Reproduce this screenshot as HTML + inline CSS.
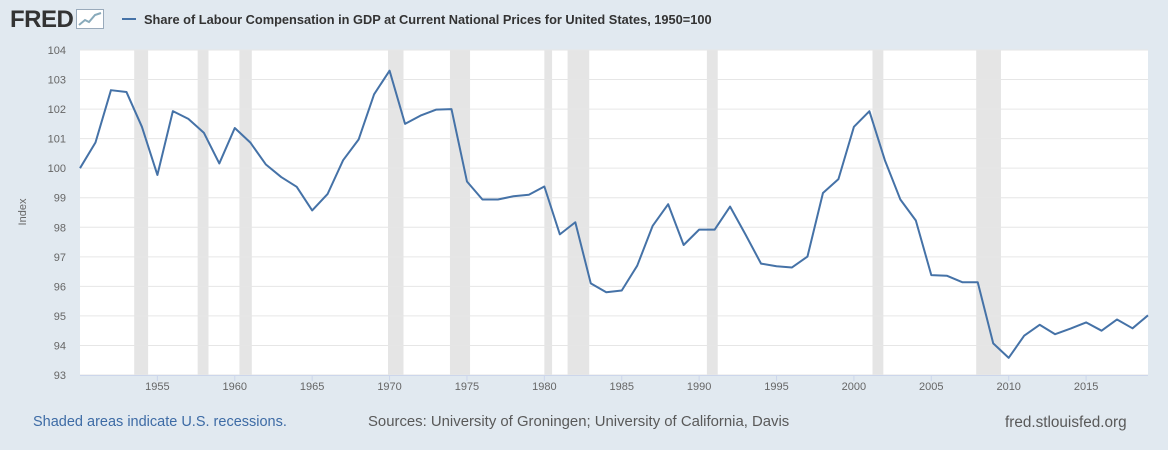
<!DOCTYPE html>
<html><head><meta charset="utf-8"><style>
body{margin:0;width:1168px;height:450px;background:#e1e9f0;font-family:"Liberation Sans",sans-serif;overflow:hidden;position:relative}
.ft{position:absolute;top:414px;font-size:14px;color:#595959}
</style></head><body>
<div style="position:absolute;left:10px;top:6px;font-size:24px;font-weight:bold;color:#333;letter-spacing:-0.5px">FRED<span style="display:inline-block;width:26px;height:18px;margin-left:3px;border:1px solid #9ab;background:#fff;vertical-align:-2px;position:relative"><svg width="26" height="18" style="position:absolute;left:0;top:0"><polyline points="2,15 8,10 12,12 18,5 24,3" fill="none" stroke="#8ab" stroke-width="2"/></svg></span></div>
<div style="position:absolute;left:122px;top:12px;font-size:12.8px;font-weight:bold;color:#333"><span style="display:inline-block;width:14px;height:2px;background:#4572a7;vertical-align:4px;margin-right:8px"></span>Share of Labour Compensation in GDP at Current National Prices for United States, 1950=100</div>
<svg id="chart" width="1168" height="450" style="position:absolute;left:0;top:0"></svg>
<div class="ft" style="left:33px;color:#3d6ba5;font-size:14.5px">Shaded areas indicate U.S. recessions.</div>
<div class="ft" style="left:368px;font-size:14.9px">Sources: University of Groningen; University of California, Davis</div>
<div class="ft" style="left:1005px;font-size:15.3px">fred.stlouisfed.org</div>
<script>
const years=[];for(let y=1950;y<=2019;y++)years.push(y);
const values=[100.0,100.87,102.64,102.58,101.4,99.77,101.93,101.67,101.2,100.16,101.36,100.87,100.13,99.7,99.37,98.57,99.13,100.27,100.97,102.5,103.3,101.5,101.78,101.98,102.0,99.55,98.94,98.94,99.05,99.1,99.38,97.76,98.17,96.1,95.8,95.86,96.7,98.05,98.78,97.4,97.92,97.92,98.7,97.75,96.77,96.68,96.64,97.01,99.16,99.63,101.4,101.93,100.27,98.94,98.23,96.38,96.36,96.14,96.14,94.07,93.58,94.33,94.7,94.38,94.57,94.78,94.5,94.88,94.58,95.02];
const recStart=[1953.5,1957.6,1960.3,1969.9,1973.9,1980.0,1981.5,1990.5,2001.2,2007.9];
const recEnd=[1954.4,1958.3,1961.1,1970.9,1975.2,1980.5,1982.9,1991.2,2001.9,2009.5];
const yTicks=[93,94,95,96,97,98,99,100,101,102,103,104];
const xTicks=[1955,1960,1965,1970,1975,1980,1985,1990,1995,2000,2005,2010,2015];
const L=80,R=1148,T=50,B=375,ns="http://www.w3.org/2000/svg",svg=document.getElementById('chart');
const X=v=>L+(v-1950)/(2019-1950)*(R-L),Y=v=>B-(v-93)/(104-93)*(B-T);
function mk(t,a){const e=document.createElementNS(ns,t);for(const k in a)e.setAttribute(k,a[k]);svg.appendChild(e);return e;}
const bg=mk('rect',{x:L,y:T,width:R-L,height:B-T,fill:'#fff'});


recStart.forEach((s,i)=>{const r=mk('rect',{x:X(s),y:T,width:X(recEnd[i])-X(s),height:B-T,fill:'#e5e5e5'});

});
yTicks.forEach(v=>{const l=mk('line',{x1:L,x2:R,y1:Y(v),y2:Y(v),stroke:'#e6e6e6','stroke-width':1});


const t=mk('text',{x:66,y:Y(v)+4,'text-anchor':'end','font-size':11,fill:'#666','font-family':'Liberation Sans'});t.textContent=v;

});
const ax=mk('line',{x1:L,x2:R,y1:B+0.5,y2:B+0.5,stroke:'#ccd6eb'});


xTicks.forEach(v=>{const k=mk('line',{x1:X(v),x2:X(v),y1:B,y2:B+6,stroke:'#ccd6eb'});


const t=mk('text',{x:X(v),y:B+15,'text-anchor':'middle','font-size':11,fill:'#666','font-family':'Liberation Sans'});t.textContent=v;

});
const yt=mk('text',{x:0,y:0,transform:'translate(26,212) rotate(-90)','text-anchor':'middle','font-size':11,fill:'#666','font-family':'Liberation Sans'});yt.textContent='Index';


const p=mk('polyline',{points:values.map((v,i)=>X(years[i])+','+Y(v)).join(' '),fill:'none',stroke:'#4572a7','stroke-width':2,'stroke-linejoin':'round'});


</script>
</body></html>
